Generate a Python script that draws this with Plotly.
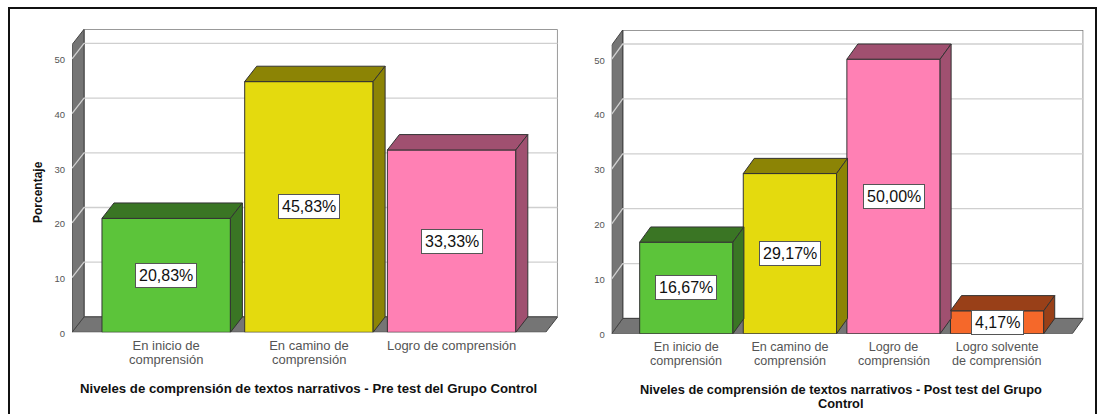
import plotly.graph_objects as go

# ---- data
cats_pre = ["En inicio de<br>comprensión", "En camino de<br>comprensión", "Logro de comprensión"]
vals_pre = [20.83, 45.83, 33.33]
labels_pre = ["20,83%", "45,83%", "33,33%"]
cats_post = ["En inicio de<br>comprensión", "En camino de<br>comprensión", "Logro de<br>comprensión", "Logro solvente<br>de comprensión"]
vals_post = [16.67, 29.17, 50.00, 4.17]
labels_post = ["16,67%", "29,17%", "50,00%", "4,17%"]
y_ticks = [0, 10, 20, 30, 40, 50]
title_pre = ["Niveles de comprensión de textos narrativos - Pre test del Grupo Control"]
title_post = ["Niveles de comprensión de textos narrativos - Post test del Grupo", "Control"]
y_title = "Porcentaje"

# ---- styles
front_cols = ["#5CC43A", "#E4DA0E", "#FF80B4", "#F5682A"]
depth_cols = ["#3A7524", "#8C8405", "#A05070", "#994018"]
W, H = 1097, 414
WALL = "#757575"
GRID = "#CFCFCF"
EDGE = "#333333"
TXT = "#555555"
FONT = "Liberation Sans, Arial"

fig = go.Figure()


def panel(suffix, cats, vals, labels, px_left, px_back_right, px_top, px_y0,
          px_step, px_center0, px_dx, px_dy, px_per_unit, cat_size):
    xa = "x" + suffix
    ya = "y" + suffix
    xlo = (px_left - px_center0) / px_step
    xhi = (px_back_right - px_center0) / px_step
    ytop = (px_y0 - px_top) / px_per_unit
    dx = px_dx / px_step
    dy = px_dy / px_per_unit
    bw = 0.9
    xs = list(range(len(cats)))

    shapes = []

    def poly(pts, fill, line=EDGE, lw=1, layer="below", closed=True):
        path = "M " + " L ".join(f"{a},{b}" for a, b in pts) + (" Z" if closed else "")
        shapes.append(dict(type="path", path=path, xref=xa, yref=ya, layer=layer,
                           fillcolor=fill, line=dict(color=line, width=lw)))

    xr = xhi - dx   # front right end of the floor
    # back wall
    poly([(xlo + dx, dy), (xhi, dy), (xhi, ytop), (xlo + dx, ytop)], "white", "#777777", 1.5)
    # floor
    poly([(xlo, 0), (xr, 0), (xhi, dy), (xlo + dx, dy)], WALL, "#444444", 1)
    # left wall
    poly([(xlo, 0), (xlo + dx, dy), (xlo + dx, ytop), (xlo, ytop - dy)], WALL, "#444444", 1)
    # gridlines
    for t in y_ticks[1:]:
        poly([(xlo, t), (xlo + dx, t + dy), (xhi, t + dy)], "rgba(0,0,0,0)", GRID, 1.3, closed=False)

    # front faces
    fig.add_trace(go.Bar(x=xs, y=vals, width=bw, marker=dict(color=front_cols[:len(vals)],
                  line=dict(color=EDGE, width=1)), xaxis=xa, yaxis=ya, showlegend=False,
                  hoverinfo="skip"))
    # top + side faces
    for i, v in enumerate(vals):
        l, r = i - bw / 2, i + bw / 2
        fig.add_trace(go.Scatter(x=[l, r, r + dx, l + dx, l], y=[v, v, v + dy, v + dy, v],
                                 mode="lines", fill="toself", fillcolor=depth_cols[i],
                                 line=dict(color=EDGE, width=1), xaxis=xa, yaxis=ya,
                                 showlegend=False, hoverinfo="skip"))
        fig.add_trace(go.Scatter(x=[r, r + dx, r + dx, r, r], y=[0, dy, v + dy, v, 0],
                                 mode="lines", fill="toself", fillcolor=depth_cols[i],
                                 line=dict(color=EDGE, width=1), xaxis=xa, yaxis=ya,
                                 showlegend=False, hoverinfo="skip"))

    annos = [dict(x=i, y=v / 2, xref=xa, yref=ya, text=labels[i], showarrow=False,
                  font=dict(family=FONT, size=16, color="#111111"),
                  bgcolor="white", bordercolor="#555555", borderwidth=1, borderpad=3)
             for i, v in enumerate(vals)]

    # first line of each category is the axis tick label; the second sits tighter below it
    first = [c.split("<br>")[0] for c in cats]
    for i, c in enumerate(cats):
        parts = c.split("<br>")
        if len(parts) > 1:
            annos.append(dict(x=i, y=1 - (px_y0 + 27) / H, xref=xa, yref="paper", text=parts[1],
                              showarrow=False, xanchor="center", yanchor="middle",
                              font=dict(family=FONT, size=cat_size, color=TXT)))

    dom_x = [px_left / W, px_back_right / W]
    dom_y = [1 - px_y0 / H, 1 - px_top / H]
    axis_x = dict(domain=dom_x, range=[xlo, xhi], tickmode="array", tickvals=xs, ticktext=first,
                  anchor=ya, automargin=False,
                  showgrid=False, zeroline=False, showline=False, ticks="outside", ticklen=1,
                  tickcolor="rgba(0,0,0,0)", tickangle=0,
                  tickfont=dict(family=FONT, size=cat_size, color=TXT))
    axis_y = dict(domain=dom_y, range=[0, ytop], tickmode="array", tickvals=y_ticks,
                  anchor=xa, automargin=False, ticklabelshift=1,
                  showgrid=False, zeroline=False, showline=False, ticks="outside", ticklen=4,
                  tickcolor="rgba(0,0,0,0)",
                  tickfont=dict(family=FONT, size=9.5, color="#555555"))
    return shapes, annos, axis_x, axis_y


s1, a1, xa1, ya1 = panel("", cats_pre, vals_pre, labels_pre, 72, 557.7, 29.3, 332.3,
                         142.7, 166.2, 12, 15.4, 5.47, 13)
s2, a2, xa2, ya2 = panel("2", cats_post, vals_post, labels_post, 611.7, 1083.3, 30, 333.7,
                         103.6, 686.3, 11, 15.2, 5.49, 12.6)

frame = dict(type="rect", xref="paper", yref="paper", x0=9 / W, x1=1096 / W, y0=-1 / H,
             y1=1 - 8 / H, line=dict(color="#111111", width=2), fillcolor="rgba(0,0,0,0)", layer="below")


def note(text, cx, cy, size=12, angle=0):
    return dict(text="<b>" + text + "</b>", x=cx / W, y=1 - cy / H, xref="paper", yref="paper",
                showarrow=False, textangle=angle, xanchor="center", yanchor="middle",
                font=dict(family=FONT, size=size, color="#111111"))


fig.update_layout(
    width=W, height=H, margin=dict(l=0, r=0, t=0, b=0), paper_bgcolor="white",
    plot_bgcolor="rgba(0,0,0,0)", showlegend=False, bargap=0.1,
    shapes=[frame] + s1 + s2,
    annotations=a1 + a2 + [
        note(title_pre[0], 308.5, 388, 13.2),
        note(title_post[0], 841, 389, 12.8),
        note(title_post[1], 841, 403.5, 12.8),
        note(y_title, 38, 192, 12, -90),
    ],
    xaxis=xa1, yaxis=ya1, xaxis2=xa2, yaxis2=ya2,
)
fig.write_html("out.html", config=dict(displayModeBar=False),
               post_script="document.body.style.margin='0';document.body.style.overflow='hidden';")
